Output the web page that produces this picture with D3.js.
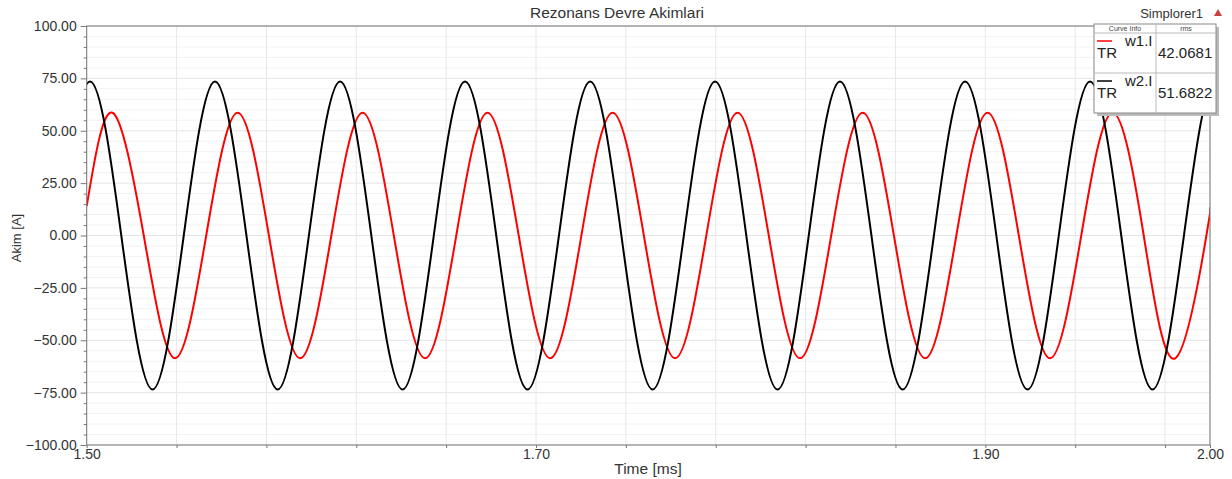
<!DOCTYPE html>
<html>
<head>
<meta charset="utf-8">
<script src="https://cdn.jsdelivr.net/npm/d3@7"></script>
<style>
  html, body { margin: 0; padding: 0; background: #fff; }
  svg { display: block; font-family: "Liberation Sans", Arial, sans-serif; }
  .axis path, .axis line { stroke: #777; }
  .axis text { fill: #333; font-size: 14px; }
</style>
</head>
<body>
<div id="chart"></div>
<script>
// Chart data
const chartTitle = 'Rezonans Devre Akimlari';
const xLabel = 'Time [ms]';
const yLabel = 'Akim [A]';

// tick values
const xTicks = [1.50, 1.54, 1.58, 1.62, 1.66, 1.70, 1.74, 1.78, 1.82, 1.86, 1.90, 1.94, 1.98, 2.00];
const xTickLabels = [1.50, 1.70, 1.90, 2.00];
const yTicks = [-100, -75, -50, -25, 0, 25, 50, 75, 100];

// w1.I (red) : start, peaks / zero crossings / troughs, end
const w1Time = [1.5000,
  1.5115, 1.5254, 1.5393, 1.5532, 1.5672, 1.5811, 1.5950, 1.6089,
  1.6228, 1.6367, 1.6506, 1.6645, 1.6784, 1.6923, 1.7063, 1.7202,
  1.7341, 1.7480, 1.7619, 1.7758, 1.7897, 1.8036, 1.8175, 1.8314,
  1.8454, 1.8593, 1.8732, 1.8871, 1.9010, 1.9149, 1.9288, 1.9427,
  1.9566, 1.9705, 1.9845, 1.9984,
  2.0000];
const w1Value = [14,
  58.6, 0, -58.6, 0, 58.6, 0, -58.6, 0,
  58.6, 0, -58.6, 0, 58.6, 0, -58.6, 0,
  58.6, 0, -58.6, 0, 58.6, 0, -58.6, 0,
  58.6, 0, -58.6, 0, 58.6, 0, -58.6, 0,
  58.6, 0, -58.6, 0,
  12];

// w2.I (black) : zero crossing just before 1.50, peaks / zeros / troughs,
// peak and zero just past 2.00 (clipped to the plot)
const w2Time = [1.4876,
  1.5015, 1.5154, 1.5293, 1.5432, 1.5571, 1.5711, 1.5850, 1.5989,
  1.6128, 1.6267, 1.6406, 1.6545, 1.6684, 1.6823, 1.6962, 1.7102,
  1.7241, 1.7380, 1.7519, 1.7658, 1.7797, 1.7936, 1.8075, 1.8214,
  1.8353, 1.8493, 1.8632, 1.8771, 1.8910, 1.9049, 1.9188, 1.9327,
  1.9466, 1.9605, 1.9744, 1.9884,
  2.0023, 2.0162];
const w2Value = [0,
  73.5, 0, -73.5, 0, 73.5, 0, -73.5, 0,
  73.5, 0, -73.5, 0, 73.5, 0, -73.5, 0,
  73.5, 0, -73.5, 0, 73.5, 0, -73.5, 0,
  73.5, 0, -73.5, 0, 73.5, 0, -73.5, 0,
  73.5, 0, -73.5, 0,
  73.5, 0];

// legend rows
const legendNames = ['w1.I', 'w2.I'];
const legendColors = ['#ff0000', '#000000'];
const legendRms = ['42.0681', '51.6822'];

const width = 1232;
const height = 479;
const plot = { left: 86.7, right: 1210, top: 26, bottom: 445 };

let svg, x, y;

function init() {
    svg = d3.select('#chart').append('svg')
        .attr('width', width)
        .attr('height', height);

    x = d3.scaleLinear().domain([1.5, 2.0]).range([plot.left, plot.right]);
    y = d3.scaleLinear().domain([-100, 100]).range([plot.bottom, plot.top]);

    drawGrid();
    drawCurves();
    drawAxes();
    drawTitles();
    drawLegend();
}

function drawGrid() {
    const grid = svg.append('g');
    const minor = d3.range(-95, 100, 5).filter(v => v % 25 !== 0);

    grid.selectAll('.hminor').data(minor).join('line')
        .attr('x1', plot.left).attr('x2', plot.right)
        .attr('y1', d => y(d)).attr('y2', d => y(d))
        .style('stroke', '#f2f2f2');

    grid.selectAll('.hmajor').data(yTicks).join('line')
        .attr('x1', plot.left).attr('x2', plot.right)
        .attr('y1', d => y(d)).attr('y2', d => y(d))
        .style('stroke', '#e4e4e4');

    grid.selectAll('.vmajor').data(xTicks).join('line')
        .attr('x1', d => x(d)).attr('x2', d => x(d))
        .attr('y1', plot.top).attr('y2', plot.bottom)
        .style('stroke', '#e8e8e8');
}

function drawCurves() {
    svg.append('clipPath').attr('id', 'clip')
        .append('rect')
        .attr('x', plot.left).attr('y', plot.top)
        .attr('width', plot.right - plot.left)
        .attr('height', plot.bottom - plot.top);

    const line = d3.line()
        .x(d => x(d[0]))
        .y(d => y(d[1]))
        .curve(d3.curveNatural);

    const series = [
        { pts: d3.zip(w1Time, w1Value), color: '#ff0000' },
        { pts: d3.zip(w2Time, w2Value), color: '#000000' }
    ];

    svg.append('g').attr('clip-path', 'url(#clip)')
        .selectAll('path').data(series).join('path')
        .attr('d', d => line(d.pts))
        .style('fill', 'none')
        .style('stroke', d => d.color)
        .style('stroke-width', 2);
}

function drawAxes() {
    const minor = d3.range(-95, 100, 5).filter(v => v % 25 !== 0);

    svg.append('g').attr('class', 'axis')
        .attr('transform', `translate(${plot.left},0)`)
        .call(d3.axisLeft(y).tickValues(minor).tickSize(3).tickFormat(''))
        .call(g => g.select('.domain').remove());

    svg.append('g').attr('class', 'axis')
        .attr('transform', `translate(${plot.left},0)`)
        .call(d3.axisLeft(y).tickValues(yTicks).tickSize(6).tickPadding(4)
            .tickFormat(d3.format('.2f')))
        .call(g => g.select('.domain').remove());

    svg.append('g').attr('class', 'axis')
        .attr('transform', `translate(0,${plot.bottom})`)
        .call(d3.axisBottom(x).tickValues(xTicks).tickSize(3).tickPadding(1)
            .tickFormat(d => xTickLabels.includes(d) ? d3.format('.2f')(d) : ''))
        .call(g => g.select('.domain').remove());

    // frame
    svg.append('rect')
        .attr('x', plot.left).attr('y', plot.top)
        .attr('width', plot.right - plot.left)
        .attr('height', plot.bottom - plot.top)
        .style('fill', 'none')
        .style('stroke', '#777');
}

function drawTitles() {
    svg.append('text')
        .attr('x', 617).attr('y', 18)
        .attr('text-anchor', 'middle')
        .style('font-size', '15.5px').style('fill', '#333')
        .text(chartTitle);

    svg.append('text')
        .attr('x', 648).attr('y', 474)
        .attr('text-anchor', 'middle')
        .style('font-size', '15.5px').style('fill', '#333')
        .text(xLabel);

    svg.append('text')
        .attr('transform', 'translate(21,238) rotate(-90)')
        .attr('text-anchor', 'middle')
        .style('font-size', '13px').style('fill', '#333')
        .text(yLabel);

    svg.append('text')
        .attr('x', 1203).attr('y', 18)
        .attr('text-anchor', 'end')
        .style('font-size', '13px').style('fill', '#333')
        .text('Simplorer1');

    svg.append('path')
        .attr('d', 'M1214,16 L1218,9 L1222,16 Z')
        .style('fill', '#c84040');
}

function drawLegend() {
    const lx = 1094, ly = 24, lw = 122, lh = 89;
    const colX = 1156;
    const headH = 9;
    const rowH = (lh - headH) / 2;
    const lg = svg.append('g');

    lg.append('rect')
        .attr('x', lx + 3).attr('y', ly + 3)
        .attr('width', lw).attr('height', lh)
        .style('fill', '#bbb');
    lg.append('rect')
        .attr('x', lx).attr('y', ly)
        .attr('width', lw).attr('height', lh)
        .style('fill', '#fff').style('stroke', '#888');

    lg.append('line')
        .attr('x1', colX).attr('x2', colX).attr('y1', ly).attr('y2', ly + lh)
        .style('stroke', '#bbb');
    lg.append('line')
        .attr('x1', lx).attr('x2', lx + lw).attr('y1', ly + headH).attr('y2', ly + headH)
        .style('stroke', '#bbb');
    lg.append('line')
        .attr('x1', lx).attr('x2', lx + lw).attr('y1', ly + headH + rowH).attr('y2', ly + headH + rowH)
        .style('stroke', '#bbb');

    lg.append('text').attr('x', (lx + colX) / 2).attr('y', ly + 7)
        .attr('text-anchor', 'middle')
        .style('font-size', '7px').style('fill', '#444')
        .text('Curve Info');
    lg.append('text').attr('x', (colX + lx + lw) / 2).attr('y', ly + 7)
        .attr('text-anchor', 'middle')
        .style('font-size', '7px').style('fill', '#444')
        .text('rms');

    legendNames.forEach((name, i) => {
        const top = ly + headH + i * rowH;
        lg.append('line')
            .attr('x1', lx + 3).attr('x2', lx + 18)
            .attr('y1', top + 8).attr('y2', top + 8)
            .style('stroke', legendColors[i]).style('stroke-width', 1.5);
        lg.append('text').attr('x', lx + 31).attr('y', top + 13)
            .style('font-size', '15px').style('fill', '#222')
            .text(name);
        lg.append('text').attr('x', lx + 3).attr('y', top + 25)
            .style('font-size', '15px').style('fill', '#222')
            .text('TR');
        lg.append('text').attr('x', colX + 2).attr('y', top + 25)
            .style('font-size', '15px').style('fill', '#222')
            .text(legendRms[i]);
    });
}

init();
</script>
</body>
</html>
